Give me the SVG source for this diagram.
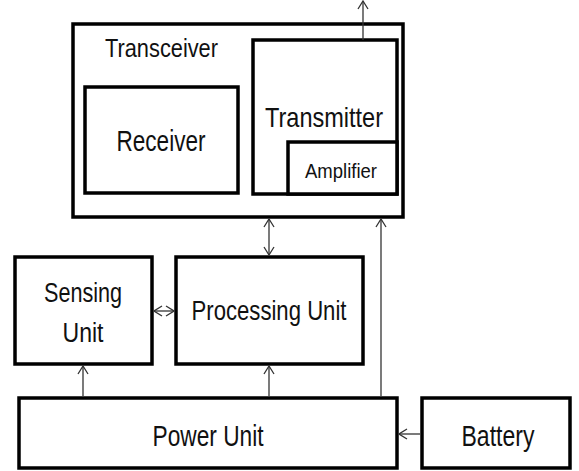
<svg xmlns="http://www.w3.org/2000/svg" width="579" height="471" viewBox="0 0 579 471">
<defs>
<style>
.box{fill:#fff;stroke:#000;stroke-width:3.5}
.lbl{font-family:"Liberation Sans",Arial,sans-serif;font-size:28px;fill:#111;text-anchor:middle}
.con{stroke:#333;stroke-width:1.3;fill:none}
</style>
<marker id="ah" markerUnits="userSpaceOnUse" markerWidth="12" markerHeight="12" viewBox="0 0 12 12" refX="11" refY="6" orient="auto-start-reverse">
<path d="M3,1 L11,6 L3,11" fill="none" stroke="#333" stroke-width="1.3"/>
</marker>
</defs>
<rect width="579" height="471" fill="#fff"/>
<g id="transceiver">
<rect class="box" x="73" y="24" width="330" height="193"/>
<text class="lbl" x="105" y="57" style="text-anchor:start;font-size:25px" textLength="113" lengthAdjust="spacingAndGlyphs">Transceiver</text>
</g>
<g id="receiver">
<rect class="box" x="85" y="87" width="153" height="106"/>
<text class="lbl" x="161" y="151" style="font-size:29px" textLength="89" lengthAdjust="spacingAndGlyphs">Receiver</text>
</g>
<g id="transmitter">
<rect class="box" x="253" y="40" width="144" height="154"/>
<text class="lbl" x="324" y="127" style="font-size:28px" textLength="118" lengthAdjust="spacingAndGlyphs">Transmitter</text>
</g>
<g id="amplifier">
<rect class="box" x="288" y="142" width="109" height="52"/>
<text class="lbl" x="341" y="178" style="font-size:21px" textLength="72" lengthAdjust="spacingAndGlyphs">Amplifier</text>
</g>
<g id="sensing">
<rect class="box" x="15" y="257" width="137" height="107"/>
<text class="lbl" x="83" y="302" style="font-size:27px" textLength="78" lengthAdjust="spacingAndGlyphs">Sensing</text>
<text class="lbl" x="83" y="342" style="font-size:27px" textLength="41" lengthAdjust="spacingAndGlyphs">Unit</text>
</g>
<g id="processing">
<rect class="box" x="176" y="257" width="187" height="107"/>
<text class="lbl" x="269" y="320" textLength="155" lengthAdjust="spacingAndGlyphs">Processing Unit</text>
</g>
<g id="power">
<rect class="box" x="19" y="398" width="378" height="70"/>
<text class="lbl" x="208" y="446" style="font-size:30px" textLength="111" lengthAdjust="spacingAndGlyphs">Power Unit</text>
</g>
<g id="battery">
<rect class="box" x="422" y="398" width="148" height="70"/>
<text class="lbl" x="498" y="446" style="font-size:30px" textLength="73" lengthAdjust="spacingAndGlyphs">Battery</text>
</g>
<g id="connectors">
<line class="con" x1="363" y1="40" x2="363" y2="1" marker-end="url(#ah)"/>
<line class="con" x1="269" y1="219" x2="269" y2="255" marker-start="url(#ah)" marker-end="url(#ah)"/>
<line class="con" x1="154" y1="311" x2="174" y2="311" marker-start="url(#ah)" marker-end="url(#ah)"/>
<line class="con" x1="381" y1="396" x2="381" y2="219" marker-end="url(#ah)"/>
<line class="con" x1="83" y1="396" x2="83" y2="366" marker-end="url(#ah)"/>
<line class="con" x1="269" y1="396" x2="269" y2="366" marker-end="url(#ah)"/>
<line class="con" x1="420" y1="434" x2="399" y2="434" marker-end="url(#ah)"/>
</g>
</svg>
